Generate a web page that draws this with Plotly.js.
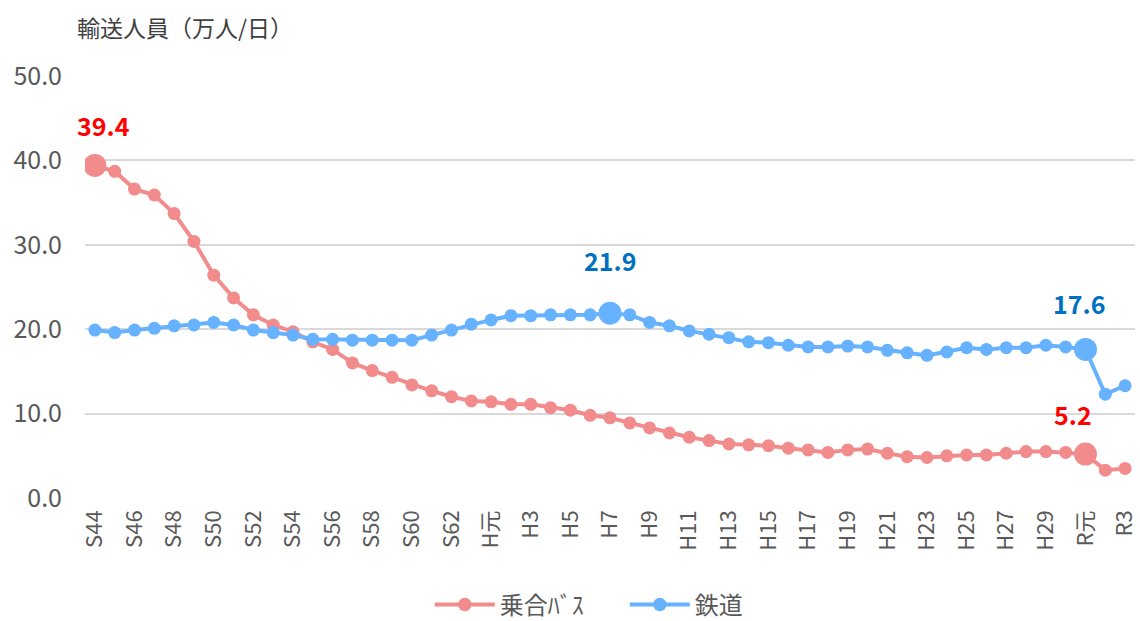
<!DOCTYPE html>
<html>
<head>
<meta charset="utf-8">
<script src="https://cdn.plot.ly/plotly-3.0.1.min.js"></script>
<style>html,body{margin:0;padding:0;background:#fff;}#chart{width:1140px;height:621px;}</style>
</head>
<body>
<div id="chart"></div>
<script>
// Fiscal years (Showa 44 .. Reiwa 3)
const categories = ["S44","S45","S46","S47","S48","S49","S50","S51","S52","S53","S54","S55","S56","S57","S58","S59","S60","S61","S62","S63",
  "H元","H2","H3","H4","H5","H6","H7","H8","H9","H10","H11","H12","H13","H14","H15","H16","H17","H18","H19","H20",
  "H21","H22","H23","H24","H25","H26","H27","H28","H29","H30","R元","R2","R3"];
const tickLabels = ["S44","S46","S48","S50","S52","S54","S56","S58","S60","S62","H元","H3","H5","H7","H9","H11","H13","H15","H17","H19","H21","H23","H25","H27","H29","R元","R3"];
const busName = "乗合ﾊﾞｽ";
const railName = "鉄道";
const busValues = [39.4,38.7,36.6,35.9,33.7,30.4,26.4,23.7,21.7,20.5,19.7,18.5,17.6,16.0,15.1,14.3,13.4,12.7,12.0,11.5,
  11.4,11.1,11.1,10.7,10.4,9.8,9.5,8.9,8.3,7.7,7.2,6.8,6.4,6.3,6.2,5.9,5.7,5.4,5.7,5.8,
  5.3,4.9,4.8,5.0,5.1,5.1,5.3,5.5,5.5,5.4,5.2,3.3,3.5];
const railValues = [19.9,19.6,19.9,20.1,20.4,20.5,20.8,20.5,19.9,19.6,19.3,18.8,18.8,18.7,18.7,18.7,18.7,19.3,19.9,20.6,
  21.1,21.6,21.6,21.7,21.7,21.7,21.9,21.7,20.8,20.4,19.8,19.4,19.0,18.5,18.4,18.1,17.9,17.9,18.0,17.9,
  17.5,17.2,16.9,17.3,17.8,17.6,17.8,17.8,18.1,17.9,17.6,12.3,13.3];
const busHighlights = ["S44","R元"];
const railHighlights = ["H7","R元"];
const yTitle = "輸送人員（万人/日）";

const FONT = "'Noto Sans CJK JP', 'Noto Sans', sans-serif";
const busColor = "#F28B8B";
const railColor = "#66B2FF";

function sizes(hl){ return categories.map(c => hl.includes(c) ? 23 : 13); }

const traces = [
  {x: categories, y: busValues, name: busName, type: "scatter", mode: "lines+markers",
   line: {color: busColor, width: 4},
   marker: {color: busColor, size: sizes(busHighlights), opacity: 1, line: {width: 0}}},
  {x: categories, y: railValues, name: railName, type: "scatter", mode: "lines+markers",
   line: {color: railColor, width: 4},
   marker: {color: railColor, size: sizes(railHighlights), opacity: 1, line: {width: 0}}}
];

function lab(series, cat, color, xs, ys){
  const v = series[categories.indexOf(cat)];
  return {x: cat, y: v, xref: "x", yref: "y", text: v.toFixed(1), showarrow: false,
    xshift: xs, yshift: ys, font: {family: FONT, size: 25, color: color, weight: "bold"}};
}

const annotations = [
  lab(busValues, "S44", "#FF0000", 9, 40),
  lab(busValues, "R元", "#FF0000", -12, 40),
  lab(railValues, "H7", "#0070C0", 0, 53),
  lab(railValues, "R元", "#0070C0", -6, 46),
  {xref: "paper", yref: "paper", x: -0.01, y: 1.117, xanchor: "left", yanchor: "middle",
   text: yTitle, showarrow: false, font: {family: FONT, size: 23, color: "#404040"}}
];

const layout = {
  width: 1140, height: 621,
  margin: {l: 85, r: 5, t: 76, b: 123, autoexpand: false},
  paper_bgcolor: "#fff", plot_bgcolor: "#fff",
  font: {family: FONT, color: "#595959"},
  showlegend: true,
  legend: {orientation: "h", xref: "container", yref: "container", x: 0.377, xanchor: "left",
    y: 0.026, yanchor: "middle",
    font: {family: FONT, size: 24, color: "#595959"}, itemwidth: 60,
    entrywidth: 120, entrywidthmode: "pixels"},
  xaxis: {type: "category", categoryorder: "array", categoryarray: categories,
    range: [-0.5, categories.length - 0.5],
    tickmode: "array", tickvals: tickLabels, ticktext: tickLabels, tickangle: -90,
    tickfont: {family: FONT, size: 22, color: "#595959"}, ticklabelstandoff: 7,
    showgrid: false, showline: false, zeroline: false, ticks: "", ticklen: 0},
  yaxis: {range: [0, 50], tickvals: [0,10,20,30,40,50], tickformat: ".1f",
    tickfont: {family: FONT, size: 25, color: "#595959"},
    showgrid: true, gridcolor: "#D9D9D9", gridwidth: 2, zeroline: false, showline: false, ticks: "", ticklen: 0,
    ticklabelstandoff: 22},
  annotations: annotations
};

Plotly.newPlot("chart", traces, layout, {displayModeBar: false, staticPlot: true});
</script>
</body>
</html>
